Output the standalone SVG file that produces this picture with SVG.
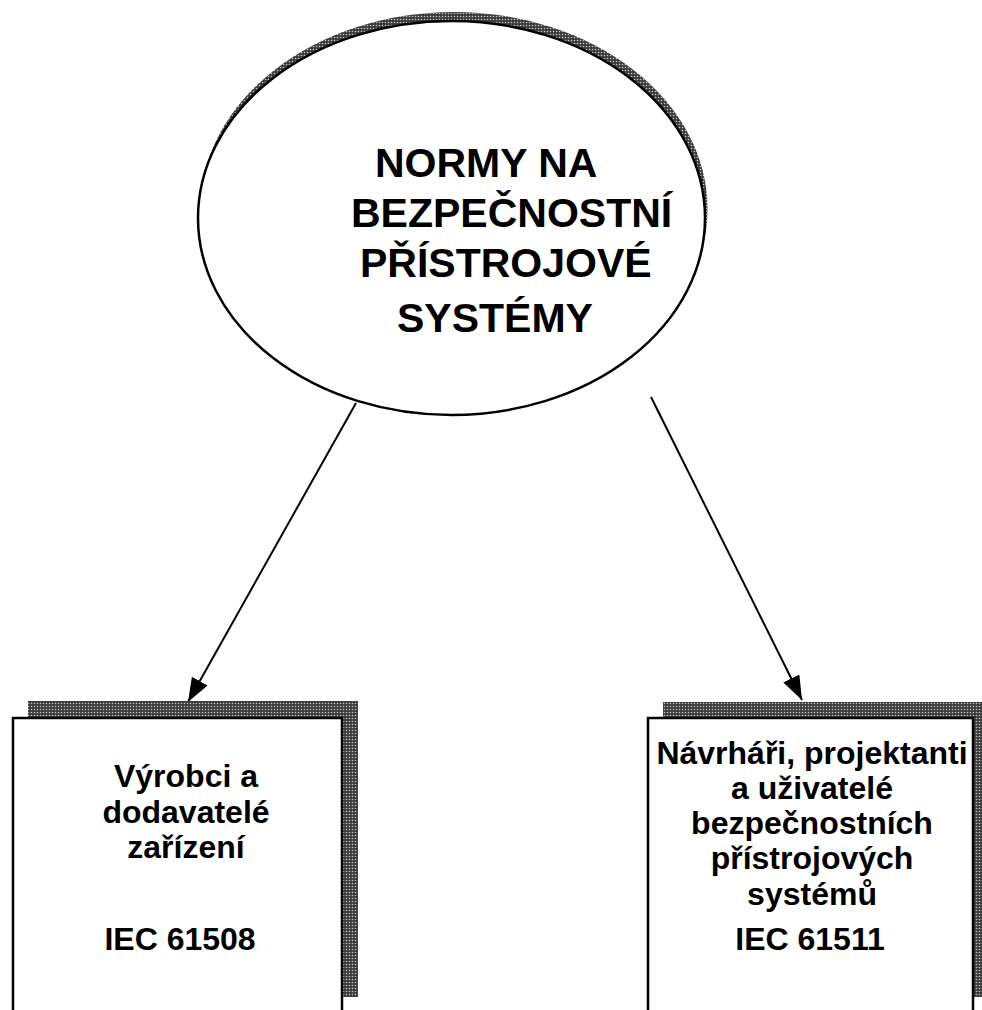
<svg xmlns="http://www.w3.org/2000/svg" width="982" height="1010" viewBox="0 0 982 1010">
  <defs>
    <!-- halftone grey used for the drop shadows -->
    <pattern id="halftone" width="3" height="3" patternUnits="userSpaceOnUse">
      <rect width="3" height="3" fill="#3a3a3a"/>
      <circle cx="1.5" cy="1.5" r="0.8" fill="#c4c4c4"/>
    </pattern>
    <marker id="arrow" markerUnits="userSpaceOnUse" markerWidth="26" markerHeight="20" refX="24" refY="9" orient="auto">
      <path d="M0,0 L24,9 L0,18 Z" fill="#000"/>
    </marker>
    <style>
      .shadow { fill: url(#halftone); stroke: none; }
      .shape { fill: #fff; stroke: #000; stroke-width: 2.5; }
      .head { font-family: "Liberation Sans", Arial, sans-serif; font-weight: bold; font-size: 41px; fill: #000; }
      .label { font-family: "Liberation Sans", Arial, sans-serif; font-weight: bold; font-size: 32px; fill: #000; text-anchor: middle; }
      .conn { stroke: #000; stroke-width: 2; fill: none; }
    </style>
  </defs>

  <rect width="982" height="1010" fill="#fff"/>

  <!-- connectors -->
  <g id="connectors">
    <line class="conn" x1="356" y1="403" x2="188" y2="702" marker-end="url(#arrow)"/>
    <line class="conn" x1="651" y1="397" x2="802" y2="700" marker-end="url(#arrow)"/>
  </g>

  <!-- root: standards for safety instrumented systems -->
  <g id="root">
    <ellipse class="shadow" cx="454" cy="209" rx="253.5" ry="197"/>
    <ellipse class="shape" cx="451.5" cy="218" rx="253.5" ry="197"/>
    <text class="head" x="375" y="177">NORMY NA</text>
    <text class="head" x="351" y="227">BEZPEČNOSTNÍ</text>
    <text class="head" x="360" y="277">PŘÍSTROJOVÉ</text>
    <text class="head" x="397" y="332">SYSTÉMY</text>
  </g>

  <!-- left: equipment manufacturers -->
  <g id="manufacturers">
    <rect class="shadow" x="28" y="701" width="330" height="296"/>
    <rect class="shape" x="13" y="718" width="329" height="310"/>
    <text class="label" x="186" y="787">Výrobci a</text>
    <text class="label" x="186" y="823">dodavatelé</text>
    <text class="label" x="186" y="858">zařízení</text>
    <text class="label" x="180" y="950">IEC 61508</text>
  </g>

  <!-- right: designers, integrators and users -->
  <g id="designers">
    <rect class="shadow" x="663" y="702" width="330" height="295"/>
    <rect class="shape" x="648" y="718" width="325" height="310"/>
    <text class="label" x="812" y="764">Návrháři, projektanti</text>
    <text class="label" x="812" y="799">a uživatelé</text>
    <text class="label" x="812" y="834">bezpečnostních</text>
    <text class="label" x="812" y="869">přístrojových</text>
    <text class="label" x="812" y="905">systémů</text>
    <text class="label" x="810" y="950">IEC 61511</text>
  </g>
</svg>
